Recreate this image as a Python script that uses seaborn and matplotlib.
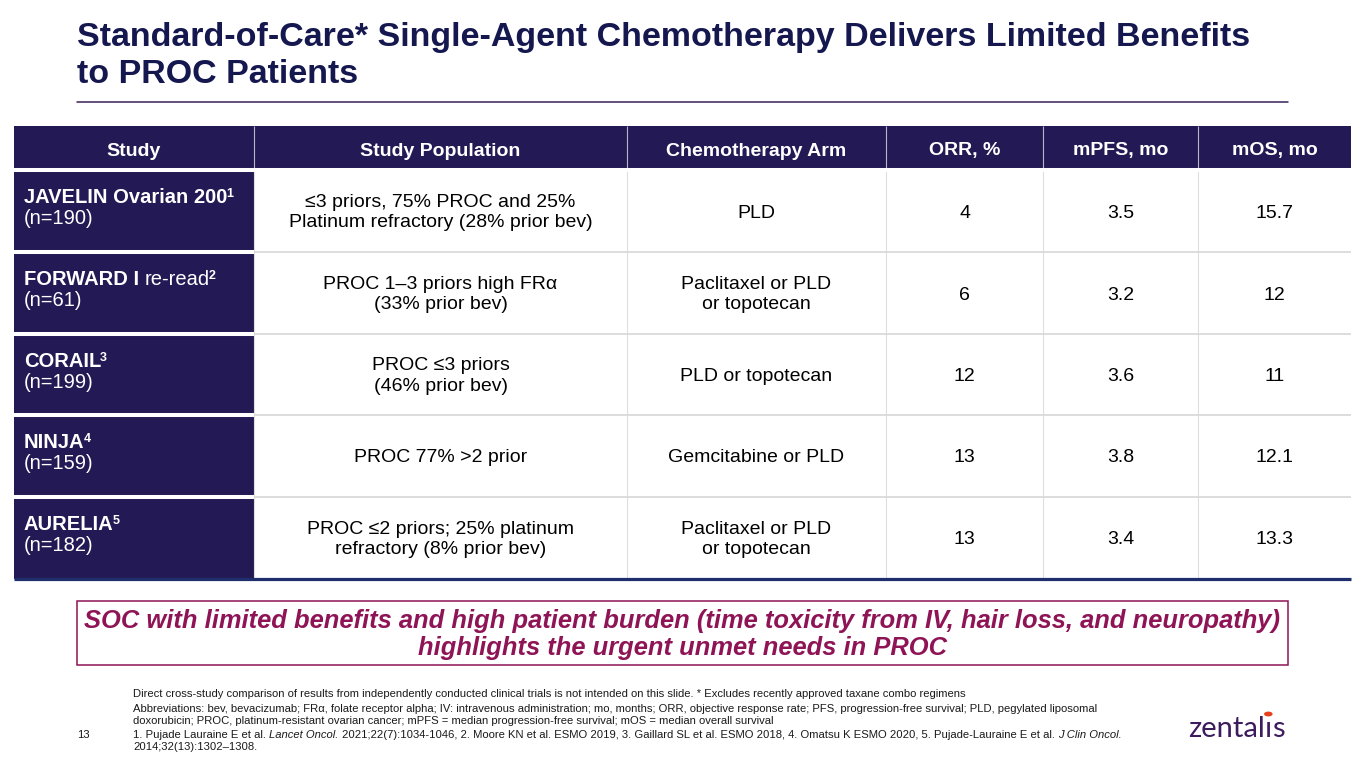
import numpy as np
import seaborn as sns
import matplotlib
matplotlib.use("Agg")
import matplotlib.pyplot as plt
from matplotlib.colors import ListedColormap
from matplotlib.patches import Rectangle, Circle
from matplotlib.lines import Line2D

# ---------------- data ----------------
title_lines = ["Standard-of-Care* Single-Agent Chemotherapy Delivers Limited Benefits",
               "to PROC Patients"]
columns = ["Study", "Study Population", "Chemotherapy Arm", "ORR, %", "mPFS, mo", "mOS, mo"]
study_bold = ["JAVELIN Ovarian 200", "FORWARD I", "CORAIL", "NINJA", "AURELIA"]
study_extra = ["", " re-read", "", "", ""]
study_refs = ["1", "2", "3", "4", "5"]
study_n = ["(n=190)", "(n=61)", "(n=199)", "(n=159)", "(n=182)"]
population = ["≤3 priors, 75% PROC and 25%\nPlatinum refractory (28% prior bev)",
              "PROC 1–3 priors high FRα\n(33% prior bev)",
              "PROC ≤3 priors\n(46% prior bev)",
              "PROC 77% >2 prior",
              "PROC ≤2 priors; 25% platinum\nrefractory (8% prior bev)"]
chemo_arm = ["PLD",
             "Paclitaxel or PLD\nor topotecan",
             "PLD or topotecan",
             "Gemcitabine or PLD",
             "Paclitaxel or PLD\nor topotecan"]
orr_pct = [4, 6, 12, 13, 13]
mpfs_mo = [3.5, 3.2, 3.6, 3.8, 3.4]
mos_mo = [15.7, 12, 11, 12.1, 13.3]

callout_lines = ["SOC with limited benefits and high patient burden (time toxicity from IV, hair loss, and neuropathy)",
                 "highlights the urgent unmet needs in PROC"]
foot_disclaimer = ("Direct cross-study comparison of results from independently conducted clinical trials "
                   "is not intended on this slide. * Excludes recently approved taxane combo regimens")
foot_abbrev = ["Abbreviations: bev, bevacizumab; FRα, folate receptor alpha; IV: intravenous administration; "
               "mo, months; ORR, objective response rate; PFS, progression-free survival; PLD, pegylated liposomal",
               "doxorubicin; PROC, platinum-resistant ovarian cancer; mPFS = median progression-free survival; "
               "mOS = median overall survival"]
foot_refs = [("1. Pujade Lauraine E et al. ", "normal"), ("Lancet Oncol.", "italic"),
             (" 2021;22(7):1034-1046, 2. Moore KN et al. ESMO 2019, 3. Gaillard SL et al. ESMO 2018, "
              "4. Omatsu K ESMO 2020, 5. Pujade-Lauraine E et al. ", "normal"),
             ("J Clin Oncol.", "italic")]
foot_refs_line2 = "2014;32(13):1302–1308."
page_number = "13"
logo_text = "zentalis"

# ---------------- layout / style ----------------
W, H = 1365, 768
NAVY = "#231A55"
TITLE_C = "#15174F"
CALLOUT_C = "#8E1456"
col_widths = [240, 373, 259, 157, 155, 153]
row_heights = [44, 82, 82, 81, 82, 82]
TABLE_X0, TABLE_Y0 = 14, 126

sns.set_theme(style="white")
plt.rcParams['font.family'] = ['Liberation Sans', 'DejaVu Sans']

fig = plt.figure(figsize=(W / 100, H / 100), dpi=100)
fig.patch.set_facecolor("white")


def fx(x):
    return x / W


def fy(y):
    return 1 - y / H


fig.canvas.draw()
renderer = fig.canvas.get_renderer()


def text_w(s, **kw):
    t = fig.text(0, 0, s, **kw)
    w = t.get_window_extent(renderer).width
    t.remove()
    return w


def rich(x, y, pieces):
    """pieces: list of (string, kwargs, dy, dx) drawn left to right, baseline at y (px)."""
    for s, kw, dy, dx in pieces:
        sp = text_w("x x", **kw) - text_w("xx", **kw)
        lead = len(s) - len(s.lstrip(" "))
        trail = len(s) - len(s.rstrip(" "))
        core = s.strip(" ")
        x += lead * sp + dx
        if core:
            t = fig.text(fx(x), fy(y - dy), core, ha="left", va="baseline", **kw)
            x += t.get_window_extent(renderer).width
        x += trail * sp
    return x


# ---------------- title ----------------
fig.text(fx(77), fy(46), title_lines[0], ha="left", va="baseline",
         fontsize=24.5, fontweight="bold", color=TITLE_C)
fig.text(fx(77), fy(83), title_lines[1], ha="left", va="baseline",
         fontsize=24.5, fontweight="bold", color=TITLE_C)
fig.add_artist(Line2D([fx(77), fx(1288)], [fy(101.5), fy(101.5)], color="#3B1F55", lw=1.1))

# ---------------- table ----------------
tw, th = sum(col_widths), sum(row_heights)
ax = fig.add_axes([fx(TABLE_X0), fy(TABLE_Y0 + th), tw / W, th / H])
kind = np.zeros((len(row_heights), len(col_widths)))
kind[0, :] = 1
kind[:, 0] = 1
grid = np.repeat(np.repeat(kind, row_heights, axis=0), col_widths, axis=1)
sns.heatmap(grid, cmap=ListedColormap(["#FFFFFF", NAVY]), vmin=0, vmax=1, cbar=False,
            xticklabels=False, yticklabels=False, ax=ax, rasterized=True)
ax.set_xlim(0, tw)
ax.set_ylim(th, 0)

col_edges = np.concatenate([[0], np.cumsum(col_widths)])
row_edges = np.concatenate([[0], np.cumsum(row_heights)])
col_cent = (col_edges[:-1] + col_edges[1:]) / 2
row_cent = (row_edges[:-1] + row_edges[1:]) / 2

# separators
for xe in col_edges[1:-1]:
    ax.vlines(xe, row_edges[1], th, color="#DEDEDE", lw=0.8)
    ax.vlines(xe, 0, row_edges[1] - 1.5, color="#B9B6C8", lw=0.8)
for ye in row_edges[2:-1]:
    ax.hlines(ye, col_edges[1], tw, color="#D7D7D7", lw=1.2)
    ax.hlines(ye, 0, col_edges[1], color="white", lw=2.9)
ax.hlines(row_edges[1], 0, tw, color="white", lw=2.9)
ax.hlines(th, 0, tw, color="#1F2F6E", lw=2.3, clip_on=False)

# header
for j, name in enumerate(columns):
    ax.text(col_cent[j], row_cent[0] + 7.5, name, ha="center", va="baseline",
            fontsize=14, fontweight="bold", color="white")

# body columns
for i in range(5):
    cy = row_cent[i + 1]
    vals = [population[i], chemo_arm[i], f"{orr_pct[i]:g}", f"{mpfs_mo[i]:g}", f"{mos_mo[i]:g}"]
    for j, v in enumerate(vals, start=1):
        lines = v.split("\n")
        if len(lines) == 1:
            ax.text(col_cent[j], cy + 6.5, v, ha="center", va="baseline", fontsize=14, color="black")
        else:
            ax.text(col_cent[j], cy - 4.3, lines[0], ha="center", va="baseline", fontsize=14, color="black")
            ax.text(col_cent[j], cy + 16.3, lines[1], ha="center", va="baseline", fontsize=14, color="black")

# first column (study names)
for i in range(5):
    cy_abs = TABLE_Y0 + row_cent[i + 1]
    pieces = [(study_bold[i], dict(fontsize=14.5, fontweight="bold", color="white"), 0, 0)]
    if study_extra[i]:
        pieces.append((study_extra[i], dict(fontsize=14.5, color="white"), 0, 0))
    pieces.append((study_refs[i], dict(fontsize=9, fontweight="bold", color="white"), 6, -1.2))
    rich(24, cy_abs - 8, pieces)
    fig.text(fx(24), fy(cy_abs + 13), study_n[i], ha="left", va="baseline", fontsize=14.5, color="white")

# ---------------- callout ----------------
fig.add_artist(Rectangle((fx(77), fy(665)), fx(1288) - fx(77), fy(601) - fy(665),
                         transform=fig.transFigure, fill=False, edgecolor=CALLOUT_C, lw=1.1))
fig.text(fx(682.5), fy(628), callout_lines[0], ha="center", va="baseline", fontsize=18.4,
         fontweight="bold", fontstyle="italic", color=CALLOUT_C)
fig.text(fx(682.5), fy(655), callout_lines[1], ha="center", va="baseline", fontsize=18.4,
         fontweight="bold", fontstyle="italic", color=CALLOUT_C)

# ---------------- footnotes ----------------
FN = dict(fontsize=8.15, color="#1A1A1A")
fig.text(fx(133), fy(697), foot_disclaimer, ha="left", va="baseline", **FN)
fig.text(fx(133), fy(712), foot_abbrev[0], ha="left", va="baseline", **FN)
fig.text(fx(133), fy(724), foot_abbrev[1], ha="left", va="baseline", **FN)
rich(133, 738, [(s, dict(FN, fontstyle=st), 0, 0) for s, st in foot_refs])
fig.text(fx(133), fy(750), foot_refs_line2, ha="left", va="baseline", **FN)
fig.text(fx(77), fy(738), page_number, ha="left", va="baseline", **FN)

# ---------------- logo ----------------
LOGO = dict(fontsize=21, color="#3D1C5E", family=["Lato", "DejaVu Sans"])
x_end = rich(1188, 737, [("zental", LOGO, 0, 0)])
x_i = rich(x_end, 737, [("ı", LOGO, 0, 0)])
rich(x_i, 737, [("s", LOGO, 0, 0)])
fig.add_artist(Circle((fx((x_end + x_i) / 2), fy(714)), 4.3 / W, transform=fig.transFigure,
                      facecolor="#E8401C", edgecolor="none"))

fig.savefig("out.png", dpi=100, facecolor="white")
